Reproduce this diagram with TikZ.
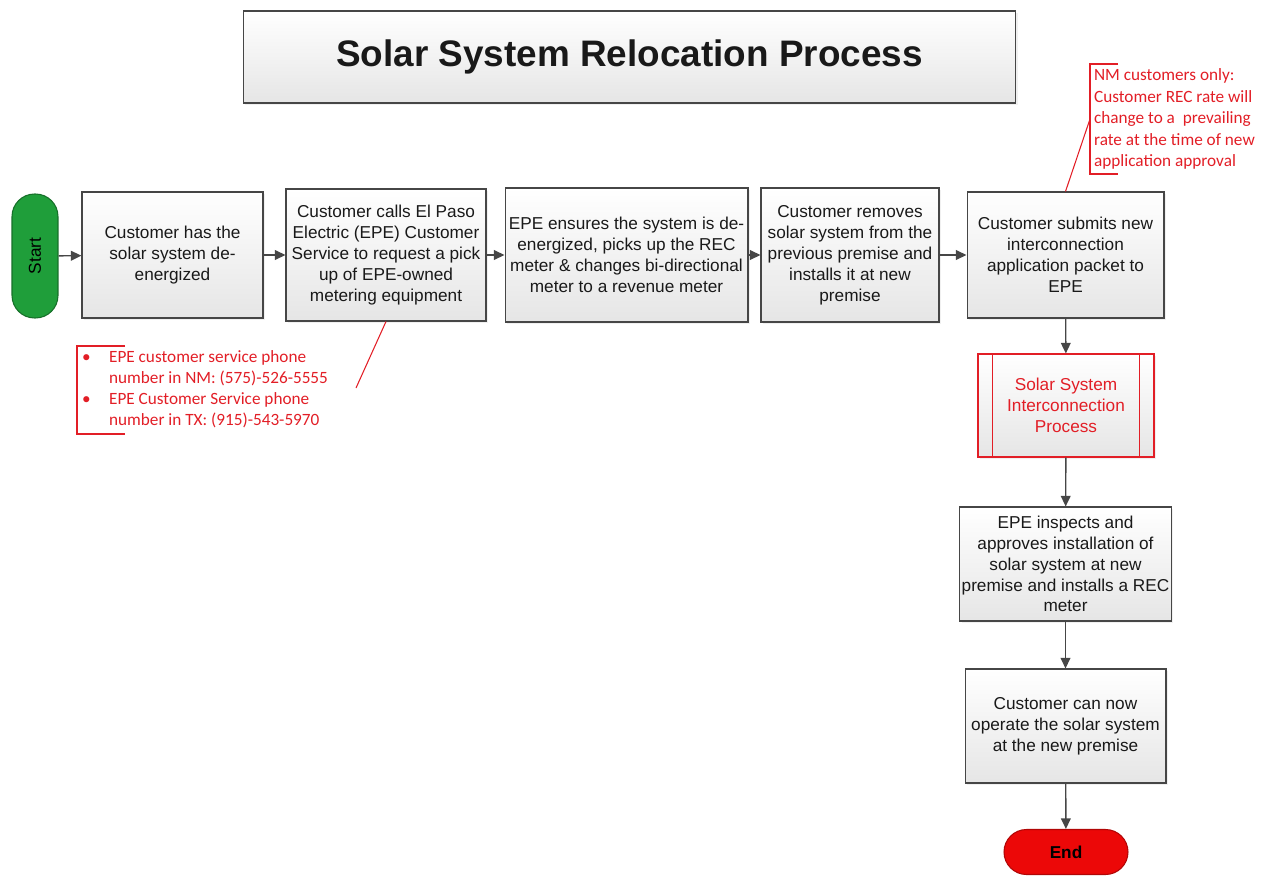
\documentclass[tikz,border=0pt]{standalone}
\usepackage{fontspec}
\setmainfont{Liberation Sans}
\newfontfamily\notefont{Carlito}
\usetikzlibrary{calc, arrows.meta, shadows}
\usepackage{xcolor}
\definecolor{startgreen}{RGB}{31,158,58}
\definecolor{endred}{RGB}{236,8,8}
\definecolor{notered}{RGB}{226,30,38}
\definecolor{linegray}{RGB}{70,70,70}

\begin{document}
\begin{tikzpicture}[x=0.02cm,y=-0.02cm,
  box/.style={draw=linegray, line width=0.6pt, top color=white, bottom color=black!10,
    align=center, inner sep=1pt, text=black!90, font=\fontsize{9.8}{11.9}\selectfont,
    drop shadow={opacity=0.12, shadow xshift=1.2pt, shadow yshift=-1.2pt}},
  term/.style={draw, line width=0.6pt, rounded corners=0.45cm, font=\fontsize{9.8}{11.9}\selectfont},
  note/.style={text=notered, align=left, inner sep=1pt, font=\notefont\fontsize{9.8}{11.9}\selectfont},
  arrow/.style={-{Triangle[length=6pt,width=5.5pt]}, linegray, line width=0.8pt},
  noteline/.style={notered, line width=0.6pt}]
  \useasboundingbox (0,0) rectangle (1265,876);

  \node[box, minimum width=15.46cm, minimum height=1.84cm, font=\fontsize{21}{24}\bfseries] (title) at (629.5,57) {Solar System Relocation Process};

  \node[term, fill=startgreen, draw=startgreen!70!black, minimum width=0.92cm, minimum height=2.48cm] (start) at (35,256) {};
  \node[rotate=90, font=\fontsize{9.8}{11.9}\selectfont] at (start) {Start};

  \node[box, minimum width=3.62cm, minimum height=2.52cm] (has) at (172.5,255) {Customer has the\\solar system de-\\energized};
  \node[box, minimum width=4.0cm, minimum height=2.64cm] (calls) at (386,255) {Customer calls El Paso\\Electric (EPE) Customer\\Service to request a pick\\up of EPE-owned\\metering equipment};
  \node[box, minimum width=4.86cm, minimum height=2.68cm] (ensures) at (626.5,255) {EPE ensures the system is de-\\energized, picks up the REC\\meter \& changes bi-directional\\meter to a revenue meter};
  \node[box, minimum width=3.56cm, minimum height=2.68cm] (removes) at (850,255) {Customer removes\\solar system from the\\previous premise and\\installs it at new\\premise};
  \node[box, minimum width=3.94cm, minimum height=2.52cm] (submits) at (1065.5,255) {Customer submits new\\interconnection\\application packet to\\EPE};
  \node[box, draw=notered, text=notered, minimum width=3.52cm, minimum height=2.06cm] (interconnect) at (1066,405.5) {Solar System\\Interconnection\\Process};
  \draw[notered, line width=0.6pt] ($(interconnect.north west)+(15,0)$) -- ($(interconnect.south west)+(15,0)$)
    ($(interconnect.north east)+(-15,0)$) -- ($(interconnect.south east)+(-15,0)$);
  \node[box, minimum width=4.18cm, minimum height=2.28cm] (inspects) at (1065.5,564) {EPE inspects and\\approves installation of\\solar system at new\\premise and installs a REC\\meter};
  \node[box, minimum width=4.02cm, minimum height=2.28cm] (operate) at (1065.5,726) {Customer can now\\operate the solar system\\at the new premise};

  \node[term, fill=endred, draw=endred!75!black, minimum width=2.48cm, minimum height=0.9cm, font=\fontsize{9.8}{11.9}\bfseries] (end) at (1066,852) {End};

  \path[arrow]
    (start) edge (has)
    (has) edge (calls)
    (calls) edge (ensures)
    (ensures) edge (removes)
    (removes) edge (submits)
    (submits) edge (interconnect)
    (interconnect) edge (inspects)
    (inspects) edge (operate)
    (operate) edge (end);

  \node[note, anchor=west] (phones) at (80,390) {%
    \begin{tabular}{@{}p{27\dimexpr0.02cm\relax}@{}l@{}}
      \textbullet & EPE customer service phone\\
                  & number in NM: (575)-526-5555\\
      \textbullet & EPE Customer Service phone\\
                  & number in TX: (915)-543-5970
    \end{tabular}};
  \coordinate (phonesend) at (356,388);
  \draw[noteline] (125,346) -- (77,346) -- (77,434) -- (125,434);
  \draw[noteline] (calls.south) -- (phonesend);

  \node[note, anchor=west, font=\notefont\fontsize{9.8}{12.2}\selectfont] (rec) at (1092,119) {NM customers only:\\Customer REC rate will\\change to a~ prevailing\\rate at the time of new\\application approval};
  \coordinate (recend) at (1090,119);
  \draw[noteline] (1118,64) -- (1090,64) -- (1090,174) -- (1118,174);
  \draw[noteline] (submits.north) -- (recend);
\end{tikzpicture}
\end{document}
